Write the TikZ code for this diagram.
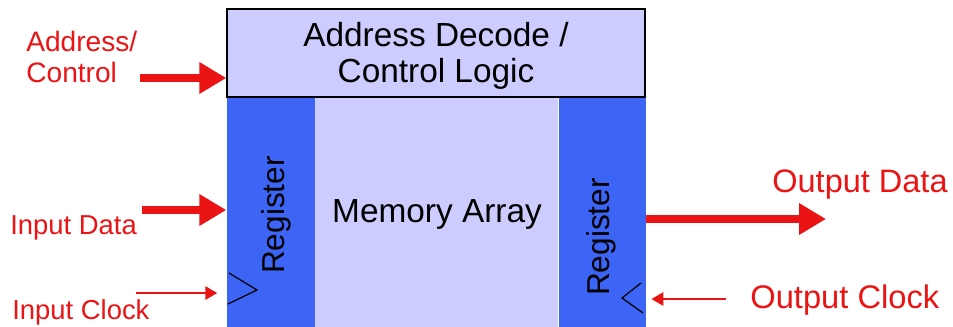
\documentclass[tikz,border=0pt]{standalone}
\usepackage{fontspec}
\setmainfont{Liberation Sans}
\usetikzlibrary{arrows.meta}

\definecolor{lavender}{RGB}{204,204,255}
\definecolor{regblue}{RGB}{60,100,245}
\definecolor{sigred}{RGB}{235,20,20}

\begin{document}
\begin{tikzpicture}[x=0.02cm,y=-0.02cm,
    blockbox/.style={draw=black,line width=0.8pt,fill=lavender,inner sep=0pt,
                     minimum width=8.36cm,minimum height=1.76cm},
    regbox/.style={fill=regblue,inner sep=0pt,minimum height=4.58cm,anchor=north west},
    memarr/.style={fill=lavender,inner sep=0pt,minimum height=4.58cm,anchor=north west},
    bigtext/.style={inner sep=0pt,align=center,font=\fontsize{19}{20.6}\selectfont},
    reglabel/.style={rotate=90,inner sep=0pt,font=\fontsize{18}{22}\selectfont},
    siglabel/.style={text=sigred,inner sep=0pt,align=left},
    busarrow/.style={draw=sigred,line width=4.5pt,
                     -{Triangle[length=0.54cm,width=0.6cm]}},
    clkarrow/.style={draw=sigred,line width=1.6pt,
                     -{Triangle[length=0.24cm,width=0.26cm]}},
    clkmark/.style={draw=black,line width=0.7pt}]
\useasboundingbox (0,0) rectangle (953,326);

% memory block
\node[blockbox] (decode) at (436,53) {};
\node[bigtext] (decodetxt) at (436,56) {Address Decode /\\Control Logic};
\node[regbox,minimum width=1.76cm] (leftreg) at (decode.south west) {};
\node[memarr,minimum width=4.86cm] (array) at (leftreg.north east) {};
\node[regbox,minimum width=1.74cm] (rightreg) at (array.north east) {};
\node[bigtext] (arraytxt) at (437,214) {Memory Array};
\node[reglabel] (lreg) at (276,215) {Register};
\node[reglabel] (rreg) at (601,237) {Register};

% clock inputs
\draw[clkmark] (229,273) -- (257,290) -- (228,304);
\draw[clkmark] (641,283) -- (622,298) -- (643,313);

% signals
\node[siglabel,anchor=west,font=\fontsize{16}{17.6}\selectfont] (addr) at (26,57) {Address/\\Control};
\node[siglabel,anchor=west,font=\fontsize{15.6}{18}\selectfont] (indata) at (10,228) {Input Data};
\node[siglabel,anchor=west,font=\fontsize{15.6}{18}\selectfont] (inclk) at (12,312) {Input Clock};
\node[siglabel,anchor=west,font=\fontsize{18.5}{22}\selectfont] (outdata) at (772,185) {Output Data};
\node[siglabel,anchor=west,font=\fontsize{18.6}{22}\selectfont] (outclk) at (750,300) {Output Clock};

\coordinate (addrin) at (140,78);
\coordinate (datain) at (142,210);
\coordinate (clkin) at (136,293);
\coordinate (dataout) at (826,219);
\coordinate (clkout) at (726,299);

\draw[busarrow] (addrin) -- (addrin -| decode.west);
\draw[busarrow] (datain) -- (datain -| leftreg.west);
\draw[busarrow] (dataout -| rightreg.east) -- (dataout);
\draw[clkarrow,shorten >=0.18cm] (clkin) -- (clkin -| leftreg.west);
\draw[clkarrow,shorten >=0.1cm] (clkout) -- (clkout -| rightreg.east);
\end{tikzpicture}
\end{document}
